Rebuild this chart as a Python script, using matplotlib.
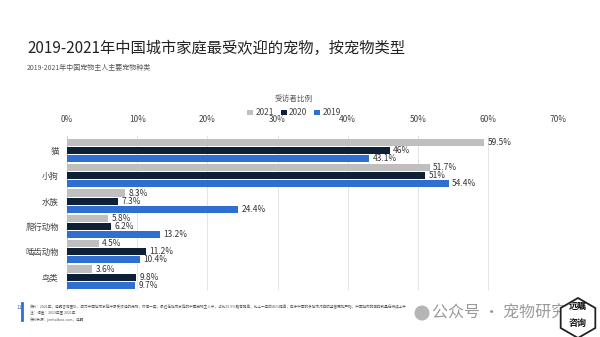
import matplotlib.pyplot as plt
import numpy as np
from matplotlib.patches import RegularPolygon, Circle

plt.rcParams['font.family'] = ['Noto Sans CJK SC', 'DejaVu Sans']

categories = ['猫', '小狗', '水族', '爬行动物', '啮齿动物', '鸟类']
years = ['2021', '2020', '2019']
share_2021 = [59.5, 51.7, 8.3, 5.8, 4.5, 3.6]
share_2020 = [46, 51, 7.3, 6.2, 11.2, 9.8]
share_2019 = [43.1, 54.4, 24.4, 13.2, 10.4, 9.7]
xticks = [0, 10, 20, 30, 40, 50, 60, 70]

colors = ['#bfbfbf', '#0e2036', '#2f6fd2']
series = [share_2021, share_2020, share_2019]

fig = plt.figure(figsize=(6, 3.37), dpi=100)
ax = fig.add_axes([0.112, 0.14, 0.818, 0.455])

y = np.arange(len(categories))
h = 0.28
for i, (vals, c, yr) in enumerate(zip(series, colors, years)):
    pos = y + (i - 1) * (h + 0.04)
    ax.barh(pos, vals, height=h, color=c, label=yr, zorder=3)
    for p, v in zip(pos, vals):
        ax.text(v + 0.5, p, f'{v:g}%', va='center', ha='left',
                fontsize=6, color='#333333')

ax.set_xlim(0, 70)
ax.set_ylim(len(categories) - 0.5, -0.55)
ax.set_xticks(xticks)
ax.set_xticklabels([f'{t}%' for t in xticks], fontsize=6, color='#444444')
ax.xaxis.tick_top()
ax.tick_params(axis='x', length=0, pad=9)
ax.set_yticks(y)
ax.set_yticklabels(categories, fontsize=6, color='#444444')
ax.tick_params(axis='y', length=0, pad=6)
ax.grid(axis='x', color='#e3e3e3', linewidth=0.7, zorder=0)
for s in ['top', 'right', 'bottom']:
    ax.spines[s].set_visible(False)
ax.spines['left'].set_color('#cccccc')
ax.spines['left'].set_linewidth(0.6)

leg = fig.legend(loc='center', bbox_to_anchor=(0.49, 0.665), ncol=3, frameon=False,
                 fontsize=6, handlelength=0.7, handleheight=0.7, handletextpad=0.3,
                 columnspacing=0.8, labelcolor='#444444')
fig.text(0.49, 0.705, '受访者比例', ha='center', va='center', fontsize=5.5, color='#555555')

fig.text(0.045, 0.857, '2019-2021年中国城市家庭最受欢迎的宠物，按宠物类型', fontsize=11,
         color='#222222', va='center')
fig.text(0.045, 0.797, '2019-2021年中国宠物主人主要宠物种类', fontsize=5, color='#555555',
         va='center')

# footer
fig.text(0.028, 0.088, '11', fontsize=3.5, color='#2f6fd2', va='center')
fig.add_artist(plt.Line2D([0.037, 0.037], [0.05, 0.1], color='#2f6fd2', lw=2,
                          transform=fig.transFigure))
fig.text(0.05, 0.09, '资料：2021年，远瞩咨询团队，成为中国城市家庭中最受欢迎的宠物，仅猫一类，最近在城市家庭的中国宠物主人中，占比59.5%略有提高，比上一年的46%提高，由于中国的多城市对狗的监管更加严格，中国城市的猫狗数量在持续上升',
         fontsize=2.6, color='#555555', va='center')
fig.text(0.05, 0.07, '注：调查：2019年至 2021年', fontsize=2.6, color='#555555', va='center')
fig.text(0.05, 0.05, '资料来源：jenhalboo.com；远瞩', fontsize=2.6, color='#555555', va='center')

# watermark
fig.add_artist(Circle((4.22, 0.24), 0.075, transform=fig.dpi_scale_trans,
                      facecolor='#b5b5b5', edgecolor='none'))
fig.text(0.72, 0.07, '公众号 · 宠物研究', fontsize=11.5, color='#9a9a9a', va='center')
hexagon = RegularPolygon((5.78, 0.19), numVertices=6, radius=0.2, orientation=0,
                         transform=fig.dpi_scale_trans, facecolor='white',
                         edgecolor='#222222', lw=1.3, zorder=5)
fig.add_artist(hexagon)
fig.text(0.963, 0.09, '远瞩', fontsize=6.5, ha='center', va='center', color='#111111',
         weight='bold', zorder=6)
fig.text(0.963, 0.04, '咨询', fontsize=6.5, ha='center', va='center', color='#111111',
         weight='bold', zorder=6)

fig.savefig('out.png', dpi=100, facecolor='white')
